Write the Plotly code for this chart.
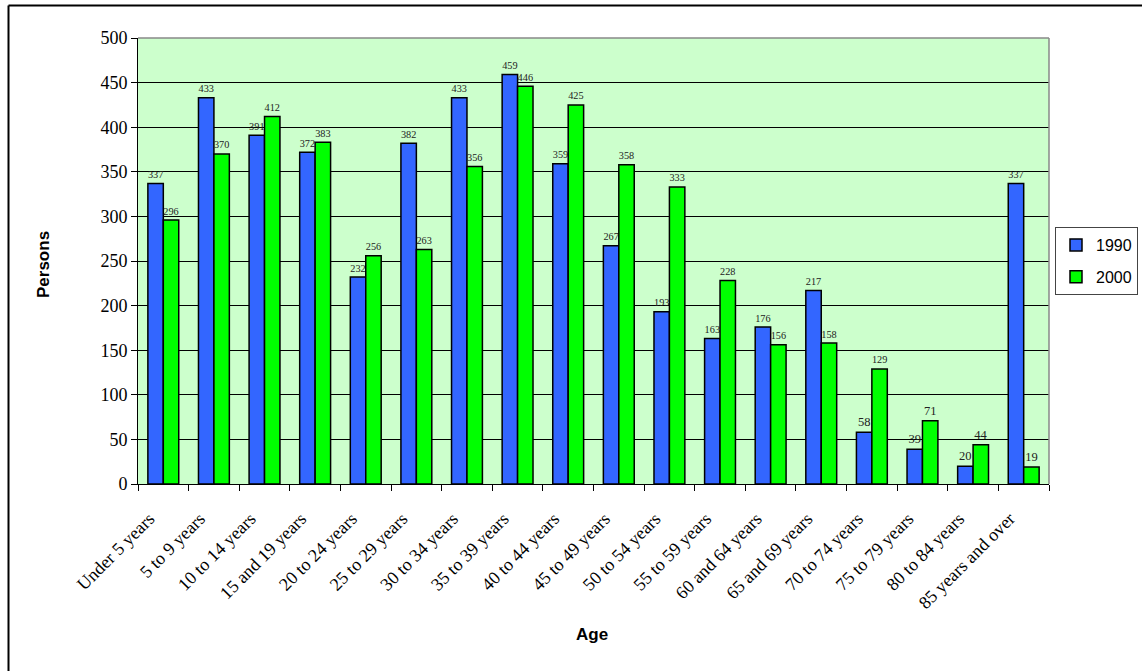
import plotly.graph_objects as go

categories = ["Under 5 years", "5 to 9 years", "10 to 14 years", "15 and 19 years",
              "20 to 24 years", "25 to 29 years", "30 to 34 years", "35 to 39 years",
              "40 to 44 years", "45 to 49 years", "50 to 54 years", "55 to 59 years",
              "60 and 64 years", "65 and 69 years", "70 to 74 years", "75 to 79 years",
              "80 to 84 years", "85 years and over"]
values_1990 = [337, 433, 391, 372, 232, 382, 433, 459, 359, 267, 193, 163, 176, 217, 58, 39, 20, 337]
values_2000 = [296, 370, 412, 383, 256, 263, 356, 446, 425, 358, 333, 228, 156, 158, 129, 71, 44, 19]
y_ticks = [0, 50, 100, 150, 200, 250, 300, 350, 400, 450, 500]

serif = "Liberation Serif, Times New Roman, serif"
sans = "Liberation Sans, Arial, sans-serif"

fig = go.Figure()
fig.add_trace(go.Bar(name="1990", x=categories, y=values_1990, legendgroup="a",
                     marker=dict(color="#3366FF", line=dict(color="black", width=1.5)),
                     text=values_1990, textposition="outside", cliponaxis=False,
                     textfont=dict(family=serif, size=12.5, color="#222")))
fig.add_trace(go.Bar(name="2000", x=categories, y=values_2000, legendgroup="b",
                     marker=dict(color="#00FF00", line=dict(color="black", width=1.5)),
                     text=values_2000, textposition="outside", cliponaxis=False,
                     textfont=dict(family=serif, size=12.5, color="#222")))

L, R, T, B = 138, 93, 38, 187
W, H = 1142, 671
pw, ph = W - L - R, H - T - B

def px2x(px):
    return (px - L) / pw

def py2y(py):
    return (H - B - py) / ph

fig.update_layout(
    width=W, height=H,
    margin=dict(l=L, r=R, t=T, b=B, pad=0, autoexpand=False),
    paper_bgcolor="white",
    plot_bgcolor="#CCFFCC",
    barmode="group",
    bargap=0.39,
    bargroupgap=0,
    showlegend=True,
    legend=dict(xref="container", yref="container",
                x=1138 / W, xanchor="right", y=1 - 261 / H, yanchor="middle",
                bgcolor="white", bordercolor="#444", borderwidth=1,
                font=dict(family=sans, size=16, color="black"),
                itemwidth=30, tracegroupgap=8),
    xaxis=dict(type="category", tickangle=-45, tickson="boundaries",
               ticks="outside", ticklen=6, tickcolor="black",
               showline=True, linecolor="black", linewidth=1,
               tickfont=dict(family=serif, size=18, color="black"),
               ticklabelstandoff=16, ticklabelshift=-14, automargin=False,
               showgrid=False, mirror=False),
    yaxis=dict(range=[0, 500], tickvals=y_ticks, ticks="outside", ticklen=6,
               tickcolor="black", showline=True, linecolor="black", linewidth=1,
               showgrid=True, gridcolor="black", gridwidth=1, automargin=False,
               tickfont=dict(family=serif, size=18, color="black"),
               zeroline=False),
    annotations=[
        dict(text="<b>Age</b>", x=px2x(592), y=py2y(634), xref="paper", yref="paper",
             xanchor="center", yanchor="middle",
             showarrow=False, font=dict(family=sans, size=17, color="black")),
        dict(text="<b>Persons</b>", x=px2x(43), y=py2y(265), xref="paper", yref="paper",
             xanchor="center", yanchor="middle",
             showarrow=False, textangle=-90, font=dict(family=sans, size=17, color="black")),
    ],
    shapes=[
        dict(type="line", xref="paper", yref="paper", x0=1, x1=1,
             y0=0, y1=1, line=dict(color="#888", width=1.5), layer="above"),
        dict(type="line", xref="paper", yref="paper", x0=0, x1=1,
             y0=1, y1=1, line=dict(color="#888", width=1.5), layer="above"),
        dict(type="line", xref="paper", yref="paper", x0=px2x(8.5), x1=px2x(1150),
             y0=py2y(5.5), y1=py2y(5.5), line=dict(color="black", width=2)),
        dict(type="line", xref="paper", yref="paper", x0=px2x(8.5), x1=px2x(8.5),
             y0=py2y(5.5), y1=py2y(680), line=dict(color="black", width=2)),
    ],
)

fig.write_html("out.html")
